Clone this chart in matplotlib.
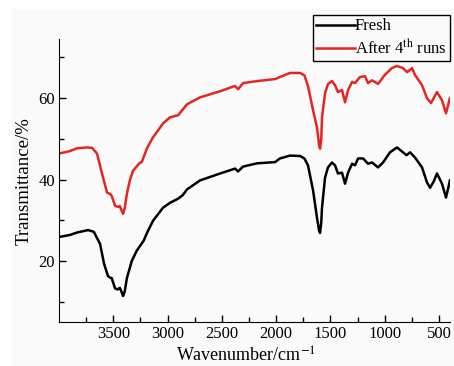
import numpy as np
import matplotlib
matplotlib.use("Agg")
import matplotlib.pyplot as plt
from matplotlib.patches import Rectangle

plt.rcParams['font.family'] = ['Liberation Serif', 'DejaVu Serif']
plt.rcParams['mathtext.fontset'] = 'stix'

# Fresh catalyst spectrum (wavenumber cm-1, transmittance %)
wn_fresh = [4000, 3900, 3834, 3733, 3680, 3622, 3585, 3549, 3530, 3515, 3484, 3460,
            3440, 3425, 3410, 3395, 3375, 3330, 3285, 3236, 3220, 3190, 3134, 3042,
            2978, 2904, 2860, 2821, 2701, 2517, 2379, 2351, 2305, 2176, 2010, 1965,
            1873, 1780, 1740, 1707, 1660, 1624, 1605, 1596, 1585, 1578, 1550, 1523,
            1486, 1458, 1431, 1394, 1366, 1338, 1301, 1274, 1246, 1200, 1154, 1117,
            1062, 1016, 952, 887, 832, 800, 767, 721, 657, 611, 583, 550, 519, 473,
            436, 415, 400]
t_fresh = [25.9, 26.4, 27.0, 27.6, 27.2, 24.2, 19.3, 16.3, 15.9, 15.8, 13.3, 13.0,
           13.4, 12.5, 11.4, 12.5, 15.8, 20.0, 22.5, 24.4, 25.0, 26.9, 29.9, 33.1,
           34.3, 35.3, 36.2, 37.6, 39.8, 41.5, 42.7, 42.0, 43.2, 44.0, 44.3, 45.2,
           45.9, 45.8, 45.2, 43.5, 37.3, 30.6, 27.5, 26.9, 29.5, 33.1, 40.5, 43.0,
           44.2, 43.5, 41.5, 41.7, 39.0, 41.7, 43.9, 43.5, 45.2, 45.2, 43.9, 44.2,
           43.0, 44.2, 46.7, 47.9, 46.7, 46.0, 46.7, 45.4, 43.0, 39.3, 38.0, 39.5,
           41.5, 39.0, 35.6, 38.0, 39.8]

# After 4th runs
wn_used = [4000, 3900, 3834, 3740, 3696, 3650, 3604, 3558, 3530, 3515, 3484, 3455,
           3440, 3425, 3410, 3395, 3375, 3348, 3318, 3260, 3236, 3190, 3134, 3042,
           2978, 2904, 2821, 2701, 2517, 2379, 2351, 2305, 2176, 2010, 1965, 1873,
           1780, 1740, 1707, 1660, 1624, 1605, 1596, 1585, 1578, 1550, 1523, 1486,
           1458, 1431, 1394, 1366, 1338, 1301, 1274, 1228, 1182, 1154, 1117, 1062,
           1000, 935, 887, 832, 795, 749, 721, 657, 611, 574, 519, 473, 436, 415, 400]
t_used = [46.4, 47.0, 47.7, 47.9, 47.8, 46.4, 41.5, 36.8, 36.5, 36.0, 33.6, 33.3,
          33.5, 32.5, 31.6, 33.0, 36.5, 39.8, 42.2, 44.0, 44.4, 47.7, 50.4, 53.8,
          55.3, 55.8, 58.5, 60.2, 61.7, 63.0, 62.2, 63.7, 64.2, 64.7, 65.2, 66.2,
          66.2, 65.6, 63.0, 57.0, 52.8, 48.5, 47.6, 50.0, 55.3, 61.2, 63.5, 64.2,
          63.2, 61.5, 62.0, 59.0, 62.0, 64.0, 63.7, 65.2, 65.4, 63.7, 64.4, 63.5,
          65.7, 67.4, 67.9, 67.4, 66.4, 67.4, 65.7, 63.2, 60.0, 58.8, 61.5, 59.5,
          56.3, 58.5, 60.0]

fig = plt.figure(figsize=(4.54, 3.66), dpi=100, facecolor='white')
fig.patches.append(Rectangle((12 / 454, 0), 1, 1 - 9 / 366, transform=fig.transFigure,
                             facecolor='#fafafa', edgecolor='none', zorder=-10))
ax = fig.add_axes([0.130, 0.120, 0.861, 0.773])
ax.set_facecolor('#fafafa')

ax.plot(wn_fresh, t_fresh, color='black', lw=1.8, label='Fresh')
ax.plot(wn_used, t_used, color='#e52521', lw=1.8, label='After 4$^{\\rm th}$ runs')

ax.set_xlim(4000, 400)
ax.set_ylim(5, 74.5)
ax.set_xticks([3500, 3000, 2500, 2000, 1500, 1000, 500])
ax.set_xticks([3750, 3250, 2750, 2250, 1750, 1250, 750], minor=True)
ax.set_yticks([20, 40, 60])
ax.set_yticks([10, 30, 50, 70], minor=True)
ax.tick_params(which='major', direction='in', length=5, width=1, labelsize=12, pad=3)
ax.tick_params(which='minor', direction='in', length=3.5, width=1)
ax.spines['top'].set_visible(False)
ax.spines['right'].set_visible(False)

ax.set_xlabel('Wavenumber/cm$^{-1}$', fontsize=13)
ax.xaxis.set_label_coords(0.478, -0.088)
ax.set_ylabel('Transmittance/%', fontsize=13.5)

leg = ax.legend(loc='upper right', bbox_to_anchor=(1.0, 1.085), fontsize=12,
                frameon=True, fancybox=False, edgecolor='black', framealpha=1,
                handlelength=2.3, handletextpad=0.0, borderpad=0.2, labelspacing=0.25,
                borderaxespad=0.0)
leg.get_frame().set_linewidth(1.0)
leg.get_frame().set_facecolor('#fafafa')

fig.savefig('out.png', dpi=100, facecolor=fig.get_facecolor())
